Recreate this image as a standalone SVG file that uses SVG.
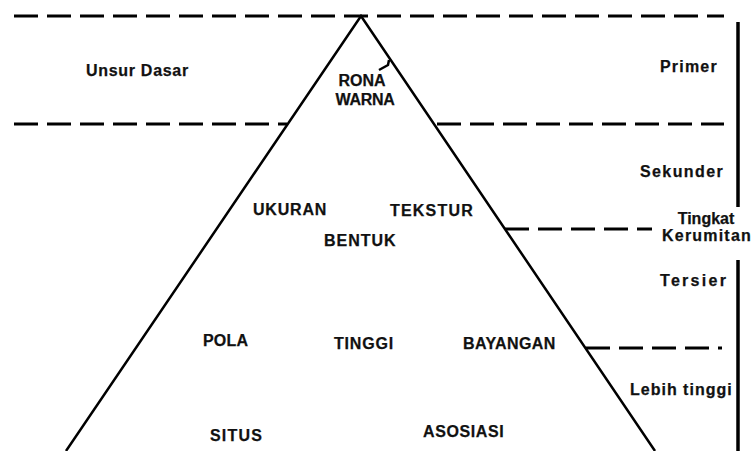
<svg xmlns="http://www.w3.org/2000/svg" width="754" height="451" viewBox="0 0 754 451">
<style>
  .lbl { font-family: "Liberation Sans", Arial, sans-serif; font-weight: bold; font-size: 16px; fill: #111; stroke: #111; stroke-width: 0.25; }
  .dash { stroke: #000; stroke-width: 3; stroke-dasharray: 24 9; fill: none; }
  .edge { stroke: #000; stroke-width: 2.5; fill: none; }
  .axis { stroke: #000; stroke-width: 3.5; fill: none; }
</style>
<rect width="754" height="451" fill="#fff"/>
<g id="connectors">
  <line class="dash" x1="14" y1="16" x2="724" y2="16"/>
  <line class="dash" x1="14" y1="124" x2="287" y2="124"/>
  <line class="dash" x1="437" y1="124" x2="724" y2="124"/>
  <line class="dash" x1="505" y1="229" x2="652" y2="229"/>
  <line class="dash" x1="586" y1="348" x2="722" y2="348"/>
  <polyline class="edge" points="66,451 361,16 655,451"/>
  <polyline class="edge" stroke-width="2" points="389,60 388,65 379,70"/>
  <line class="axis" x1="738" y1="22" x2="738" y2="207"/>
  <line class="axis" x1="738" y1="260" x2="738" y2="451"/>
</g>
<g id="unsur-dasar"><text class="lbl" x="86" y="76" letter-spacing="0.7">Unsur Dasar</text></g>
<g id="primer"><text class="lbl" x="660" y="72" letter-spacing="1.2">Primer</text></g>
<g id="rona-warna">
  <text class="lbl" x="362" y="86" text-anchor="middle">RONA</text>
  <text class="lbl" x="365" y="105" text-anchor="middle" letter-spacing="-0.3">WARNA</text>
</g>
<g id="sekunder"><text class="lbl" x="640" y="177" letter-spacing="1.4">Sekunder</text></g>
<g id="tingkat-kerumitan">
  <text class="lbl" x="706" y="224" text-anchor="middle">Tingkat</text>
  <text class="lbl" x="707" y="241" text-anchor="middle" letter-spacing="1.2">Kerumitan</text>
</g>
<g id="tersier"><text class="lbl" x="660" y="286" letter-spacing="2.3">Tersier</text></g>
<g id="lebih-tinggi"><text class="lbl" x="630" y="395" letter-spacing="1">Lebih tinggi</text></g>
<g id="ukuran"><text class="lbl" x="253" y="215" letter-spacing="0.8">UKURAN</text></g>
<g id="tekstur"><text class="lbl" x="390" y="216" letter-spacing="1.2">TEKSTUR</text></g>
<g id="bentuk"><text class="lbl" x="324" y="246" letter-spacing="1">BENTUK</text></g>
<g id="pola"><text class="lbl" x="203" y="346" letter-spacing="0.2">POLA</text></g>
<g id="tinggi"><text class="lbl" x="334" y="349" letter-spacing="0.8">TINGGI</text></g>
<g id="bayangan"><text class="lbl" x="463" y="349" letter-spacing="0.4">BAYANGAN</text></g>
<g id="situs"><text class="lbl" x="210" y="441" letter-spacing="1.2">SITUS</text></g>
<g id="asosiasi"><text class="lbl" x="423" y="437" letter-spacing="0.6">ASOSIASI</text></g>
</svg>
